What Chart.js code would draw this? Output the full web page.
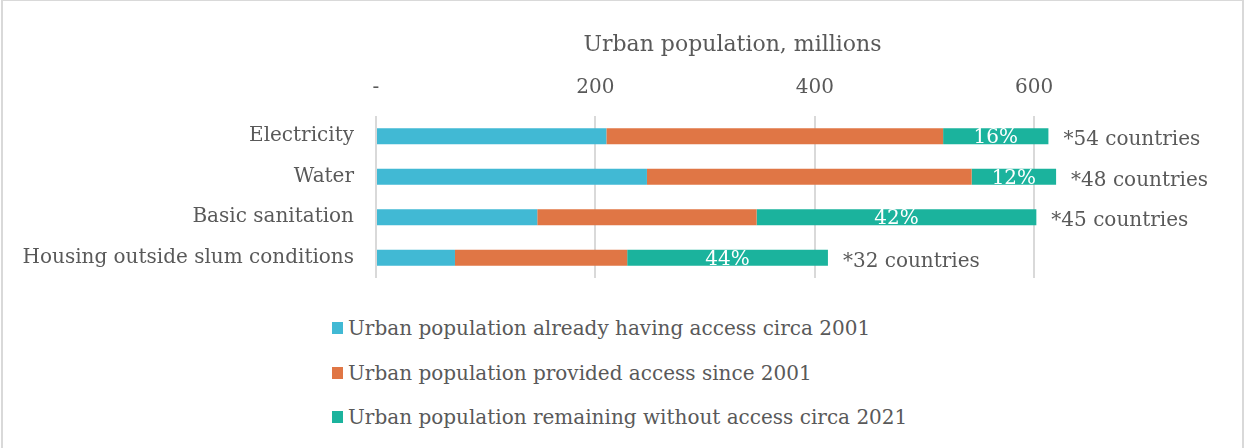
<!DOCTYPE html>
<html lang="en">
<head>
<meta charset="UTF-8">
<title>Urban population access</title>
<script src="https://cdn.jsdelivr.net/npm/chart.js"></script>
<style>
    body { margin: 0; background: #ffffff; font-family: 'DejaVu Serif', serif; }
    .frame {
        position: relative;
        width: 1250px;
        height: 448px;
        overflow: hidden;
    }
    .border {
        position: absolute;
        left: 1px; top: 0;
        width: 1239px; height: 470px;
        border-left: 2px solid #d9d9d9;
        border-right: 2px solid #d9d9d9;
        border-top: 1px solid #d9d9d9;
    }
    canvas { position: absolute; left: 0; top: 0; }
    .legend {
        position: absolute;
        left: 332px;
        top: 316px;
        color: #595959;
        font-size: 20px;
    }
    .legend div { height: 44.5px; display: flex; align-items: flex-start; }
    .legend span.box { width: 11px; height: 12px; margin: 6px 5px 0 0; display: inline-block; }
</style>
</head>
<body>
<div class="frame">
    <div class="border"></div>
    <canvas id="chart" width="1250" height="312"></canvas>
    <div class="legend" id="legend"></div>
</div>

<script>
    // categories
    const categories = ['Electricity', 'Water', 'Basic sanitation', 'Housing outside slum conditions'];

    // series, millions of urban people
    const alreadyHad = [210, 247, 147, 72];
    const providedSince = [307, 296, 200, 157];
    const remainingWithout = [96, 77, 255, 183];

    const seriesNames = [
        'Urban population already having access circa 2001',
        'Urban population provided access since 2001',
        'Urban population remaining without access circa 2021'
    ];
    const seriesColors = ['#41b9d4', '#e07645', '#1bb39d'];

    // labels on the bars
    const shareLabels = ['16%', '12%', '42%', '44%'];
    const countryLabels = ['*54 countries', '*48 countries', '*45 countries', '*32 countries'];

    const tickValues = [0, 200, 400, 600];

    const FONT = "'DejaVu Serif', serif";
    const GREY = '#595959';

    // percent inside the teal part, country count past the bar end
    const barLabels = {
        id: 'barLabels',
        afterDatasetsDraw(chart) {
            const ctx = chart.ctx;
            const meta = chart.getDatasetMeta(2);
            ctx.save();
            ctx.textBaseline = 'middle';
            meta.data.forEach((bar, i) => {
                ctx.font = '20px ' + FONT;
                ctx.fillStyle = '#ffffff';
                ctx.textAlign = 'center';
                ctx.fillText(shareLabels[i], (bar.x + bar.base) / 2, bar.y + 2);

                ctx.font = '20px ' + FONT;
                ctx.fillStyle = GREY;
                ctx.textAlign = 'left';
                ctx.fillText(countryLabels[i], bar.x + 15, bar.y + 4);
            });
            ctx.restore();
        }
    };

    const datasets = [alreadyHad, providedSince, remainingWithout].map((vals, i) => ({
        label: seriesNames[i],
        data: vals,
        backgroundColor: seriesColors[i],
        borderWidth: 0,
        barPercentage: 0.8,
        categoryPercentage: 0.5
    }));

    new Chart(document.getElementById('chart'), {
        type: 'bar',
        data: { labels: categories, datasets: datasets },
        options: {
            indexAxis: 'y',
            responsive: false,
            animation: false,
            layout: { padding: { left: 0, right: 161, top: 0, bottom: 0 } },
            plugins: {
                legend: { display: false },
                tooltip: { enabled: false }
            },
            scales: {
                x: {
                    position: 'top',
                    stacked: true,
                    min: 0,
                    max: 650,
                    afterBuildTicks: (scale) => {
                        scale.ticks = tickValues.map(v => ({ value: v }));
                    },
                    afterFit: (scale) => { scale.height = 116; },
                    ticks: {
                        callback: (v) => v === 0 ? '-' : v,
                        color: GREY,
                        font: { family: FONT, size: 20 },
                        padding: 16,
                        maxRotation: 0
                    },
                    grid: { color: '#d9d9d9', lineWidth: 2, drawTicks: false },
                    border: { display: false },
                    title: {
                        display: true,
                        text: 'Urban population, millions',
                        color: GREY,
                        font: { family: FONT, size: 22 },
                        padding: { top: 32, bottom: 0 }
                    }
                },
                y: {
                    stacked: true,
                    afterFit: (scale) => { scale.width = 376; },
                    ticks: {
                        color: GREY,
                        font: { family: FONT, size: 20 },
                        padding: 22
                    },
                    grid: { display: false, drawTicks: false },
                    border: { display: false }
                }
            }
        },
        plugins: [barLabels]
    });

    // legend stacked vertically, like the original
    const legend = document.getElementById('legend');
    seriesNames.forEach((name, i) => {
        const row = document.createElement('div');
        const box = document.createElement('span');
        box.className = 'box';
        box.style.background = seriesColors[i];
        const txt = document.createElement('span');
        txt.textContent = name;
        row.appendChild(box);
        row.appendChild(txt);
        legend.appendChild(row);
    });
</script>
</body>
</html>
